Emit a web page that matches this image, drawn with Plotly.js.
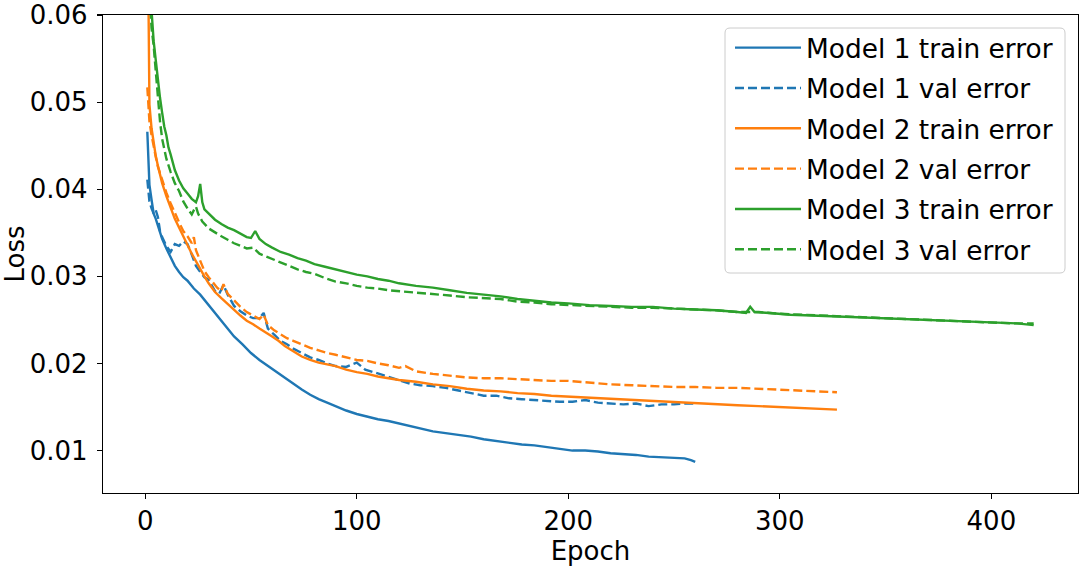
<!DOCTYPE html>
<html>
<head>
<meta charset="utf-8">
<script src="https://cdn.plot.ly/plotly-3.0.1.min.js"></script>
<style>html,body{margin:0;padding:0;background:#fff;}#chart{width:1084px;height:568px;}</style>
</head>
<body>
<div id="chart"></div>
<script>
// Model 1
const m1TrainEpochs = [1,2,3,4,5,6,8,10,12,14,16,18,20,23,26,30,34,38,42,46,50,54,58,62,66,70,74,78,82,86,90,95,100,105,110,115,120,125,130,136,142,148,154,160,166,172,178,184,190,196,202,208,214,220,226,232,238,244,250,255,258,260];
const m1Train = [0.0466,0.0405,0.0388,0.0372,0.0366,0.0358,0.0343,0.0332,0.0322,0.0312,0.0305,0.0299,0.0295,0.0286,0.0279,0.0267,0.0255,0.0243,0.0231,0.0222,0.0212,0.0204,0.0197,0.0191,0.0184,0.0177,0.0170,0.0164,0.0159,0.0155,0.0151,0.0146,0.0142,0.0139,0.0136,0.0134,0.0131,0.0128,0.0125,0.0122,0.0120,0.0118,0.0116,0.0113,0.0111,0.0109,0.0107,0.0106,0.0104,0.0102,0.0100,0.0100,0.0099,0.0097,0.0096,0.0095,0.0093,0.0092,0.0091,0.0091,0.0089,0.0087];
const m1ValEpochs = [1,2,3,4,5,6,7,8,10,12,14,16,18,20,22,24,26,28,30,33,35,37,39,42,45,48,51,54,56,58,61,64,67,70,74,78,82,86,90,95,100,104,108,112,116,120,125,130,136,142,148,154,160,166,172,178,184,190,196,202,208,214,220,226,232,238,244,250,255,260];
const m1Val = [0.0411,0.0386,0.0378,0.0372,0.0376,0.0368,0.0352,0.0345,0.0335,0.0328,0.0337,0.0335,0.0340,0.0337,0.0325,0.0312,0.0305,0.0299,0.0296,0.0283,0.0280,0.0290,0.0279,0.0266,0.0260,0.0255,0.0252,0.0252,0.0258,0.0240,0.0233,0.0226,0.0222,0.0217,0.0212,0.0207,0.0204,0.0200,0.0197,0.0196,0.0201,0.0193,0.0190,0.0187,0.0184,0.0181,0.0177,0.0175,0.0174,0.0172,0.0169,0.0166,0.0163,0.0163,0.0160,0.0159,0.0158,0.0157,0.0156,0.0156,0.0158,0.0155,0.0154,0.0153,0.0154,0.0151,0.0153,0.0153,0.0154,0.0154];

// Model 2
const m2TrainEpochs = [1,2,3,4,5,6,7,8,10,12,14,16,18,20,22,24,26,28,30,33,36,39,42,45,48,51,54,57,60,63,66,70,74,78,82,86,90,95,100,105,110,115,120,128,136,144,152,160,168,176,184,192,200,210,220,230,240,250,260,270,280,290,300,310,320,327];
const m2Train = [0.0760,0.0497,0.0470,0.0452,0.0438,0.0427,0.0416,0.0407,0.0392,0.0378,0.0366,0.0356,0.0345,0.0336,0.0326,0.0317,0.0309,0.0300,0.0292,0.0282,0.0275,0.0268,0.0261,0.0255,0.0249,0.0245,0.0240,0.0236,0.0231,0.0226,0.0220,0.0214,0.0208,0.0204,0.0201,0.0199,0.0197,0.0193,0.0190,0.0188,0.0185,0.0183,0.0181,0.0179,0.0176,0.0174,0.0171,0.0169,0.0168,0.0166,0.0165,0.0163,0.0162,0.0160,0.0159,0.0158,0.0157,0.0155,0.0154,0.0153,0.0152,0.0151,0.0150,0.0149,0.0148,0.0147];
const m2ValEpochs = [1,2,3,4,5,6,8,10,12,14,16,18,20,22,23,24,26,28,30,32,34,36,37,39,42,45,48,51,54,56,58,61,64,67,70,74,78,82,86,90,95,100,105,110,115,120,123,128,136,144,152,160,168,176,184,192,200,210,220,230,240,250,260,270,280,290,300,310,320,327];
const m2Val = [0.0517,0.0478,0.0462,0.0447,0.0437,0.0426,0.0410,0.0396,0.0384,0.0372,0.0362,0.0352,0.0346,0.0338,0.0345,0.0330,0.0318,0.0306,0.0299,0.0293,0.0287,0.0283,0.0291,0.0280,0.0272,0.0265,0.0259,0.0255,0.0251,0.0256,0.0244,0.0238,0.0233,0.0229,0.0226,0.0222,0.0218,0.0215,0.0212,0.0210,0.0207,0.0204,0.0203,0.0200,0.0198,0.0195,0.0197,0.0191,0.0188,0.0186,0.0184,0.0183,0.0183,0.0182,0.0181,0.0180,0.0180,0.0178,0.0176,0.0175,0.0174,0.0173,0.0173,0.0172,0.0172,0.0171,0.0170,0.0169,0.0168,0.0167];

// Model 3
const m3TrainEpochs = [1,2,3,4,5,6,7,8,9,10,11,12,14,16,18,20,22,24,25,26,27,28,30,33,36,39,42,45,48,50,52,54,57,60,64,68,72,76,80,85,90,95,100,105,110,115,120,128,136,144,152,160,168,176,184,192,200,210,220,230,240,250,260,270,280,284,286,288,295,305,315,325,335,345,355,365,375,385,395,405,412,420];
const m3Train = [0.0900,0.0690,0.0605,0.0570,0.0548,0.0525,0.0505,0.0488,0.0472,0.0462,0.0448,0.0440,0.0422,0.0410,0.0401,0.0395,0.0389,0.0385,0.0392,0.0406,0.0385,0.0377,0.0372,0.0365,0.0360,0.0356,0.0353,0.0349,0.0345,0.0344,0.0352,0.0343,0.0337,0.0333,0.0328,0.0325,0.0321,0.0318,0.0314,0.0311,0.0308,0.0305,0.0302,0.0300,0.0297,0.0295,0.0292,0.0289,0.0287,0.0284,0.0281,0.0279,0.0277,0.0274,0.0272,0.0270,0.0269,0.0267,0.0266,0.0265,0.0265,0.0263,0.0262,0.0261,0.0259,0.0258,0.0265,0.0259,0.0258,0.0256,0.0255,0.0254,0.0253,0.0252,0.0251,0.0250,0.0249,0.0248,0.0247,0.0246,0.0246,0.0244];
const m3ValEpochs = [1,2,3,4,5,6,7,8,9,10,12,14,16,18,20,22,23,24,25,27,30,33,36,39,42,45,48,51,54,57,60,64,68,72,76,80,85,90,95,100,105,110,115,120,128,136,144,152,160,168,176,184,192,200,210,220,230,240,250,260,270,280,290,300,310,320,330,340,350,360,370,380,390,400,410,420];
const m3Val = [0.0800,0.0630,0.0585,0.0565,0.0535,0.0505,0.0478,0.0458,0.0445,0.0435,0.0420,0.0407,0.0398,0.0386,0.0378,0.0371,0.0376,0.0380,0.0372,0.0363,0.0355,0.0350,0.0346,0.0342,0.0338,0.0335,0.0332,0.0333,0.0326,0.0323,0.0320,0.0316,0.0312,0.0308,0.0305,0.0303,0.0298,0.0294,0.0292,0.0289,0.0287,0.0286,0.0284,0.0283,0.0282,0.0280,0.0278,0.0276,0.0275,0.0274,0.0271,0.0270,0.0268,0.0267,0.0266,0.0265,0.0264,0.0264,0.0263,0.0262,0.0261,0.0259,0.0259,0.0257,0.0256,0.0255,0.0254,0.0253,0.0252,0.0251,0.0250,0.0249,0.0248,0.0247,0.0246,0.0246];

const seriesNames = ['Model 1 train error','Model 1 val error','Model 2 train error','Model 2 val error','Model 3 train error','Model 3 val error'];
const xTickVals = [0,100,200,300,400];
const yTickVals = [0.01,0.02,0.03,0.04,0.05,0.06];

const blue = '#1f77b4', orange = '#ff7f0e', green = '#2ca02c';
const LW = 2.4;
const DASH = '9px,4px';

function tr(x, y, name, color, dashed, i) {
  return {x: x, y: y, name: name, type: 'scatter', mode: 'lines', legendgroup: 'g' + i,
    line: {color: color, width: LW, dash: dashed ? DASH : 'solid'}};
}

const data = [
  tr(m1TrainEpochs, m1Train, seriesNames[0], blue, false, 0),
  tr(m1ValEpochs, m1Val, seriesNames[1], blue, true, 1),
  tr(m2TrainEpochs, m2Train, seriesNames[2], orange, false, 2),
  tr(m2ValEpochs, m2Val, seriesNames[3], orange, true, 3),
  tr(m3TrainEpochs, m3Train, seriesNames[4], green, false, 4),
  tr(m3ValEpochs, m3Val, seriesNames[5], green, true, 5)
];

// plot area geometry (px) used for the legend frame
const PL = 103, PW = 975, PT = 15, PH = 478;
function px2x(p) { return (p - PL) / PW; }
function px2y(p) { return (PT + PH - p) / PH; }
function roundRect(x0p, y0p, x1p, y1p, r) {
  const x0 = px2x(x0p), x1 = px2x(x1p), yT = px2y(y0p), yB = px2y(y1p);
  const rx = r / PW, ry = r / PH;
  return `M${x0+rx},${yT} L${x1-rx},${yT} Q${x1},${yT} ${x1},${yT-ry} L${x1},${yB+ry} Q${x1},${yB} ${x1-rx},${yB} ` +
         `L${x0+rx},${yB} Q${x0},${yB} ${x0},${yB+ry} L${x0},${yT-ry} Q${x0},${yT} ${x0+rx},${yT} Z`;
}

const FONT = 'DejaVu Sans, Liberation Sans, sans-serif';
const layout = {
  width: 1084, height: 568,
  margin: {l: 103, r: 6, t: 15, b: 75, pad: 0},
  paper_bgcolor: '#ffffff', plot_bgcolor: '#ffffff',
  font: {family: FONT, size: 26, color: '#000000'},
  showlegend: true,
  legend: {
    x: px2x(730), y: px2y(24), xanchor: 'left', yanchor: 'top',
    bgcolor: 'rgba(0,0,0,0)', borderwidth: 0,
    font: {family: FONT, size: 26.4, color: '#000000'},
    itemwidth: 66, traceorder: 'grouped', tracegroupgap: 3
  },
  shapes: [{
    type: 'path', xref: 'paper', yref: 'paper', layer: 'above',
    path: roundRect(725, 28, 1065, 273, 5),
    fillcolor: 'rgba(255,255,255,0.8)', line: {color: '#cccccc', width: 1}
  }],
  xaxis: {
    range: [-19.95, 440.95], tickvals: xTickVals, ticktext: xTickVals.map(String),
    showgrid: false, zeroline: false, showline: true, linecolor: '#000000', linewidth: 1.2, mirror: true,
    ticks: 'outside', ticklen: 5, tickwidth: 1.2, tickcolor: '#000000',
    tickfont: {family: FONT, size: 26, color: '#000000'},
    title: {text: 'Epoch', font: {family: FONT, size: 26, color: '#000000'}, standoff: 3}
  },
  yaxis: {
    range: [0.00513, 0.06], tickvals: yTickVals, ticktext: yTickVals.map(v => v.toFixed(2)),
    showgrid: false, zeroline: false, showline: true, linecolor: '#000000', linewidth: 1.2, mirror: true,
    ticks: 'outside', ticklen: 5, tickwidth: 1.2, tickcolor: '#000000',
    tickfont: {family: FONT, size: 26, color: '#000000'},
    ticklabelstandoff: 4,
    title: {text: 'Loss', font: {family: FONT, size: 26, color: '#000000'}, standoff: 10}
  }
};

Plotly.newPlot('chart', data, layout, {displayModeBar: false, staticPlot: true});
</script>
</body>
</html>
